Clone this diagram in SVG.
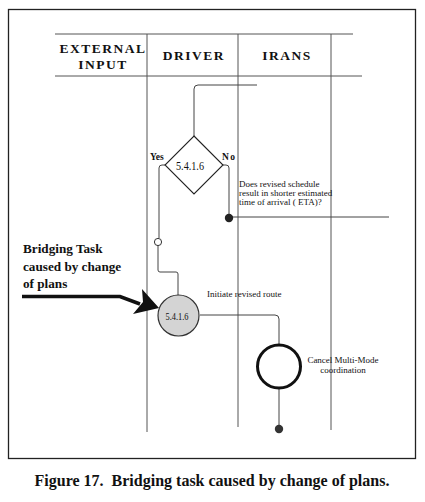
<svg xmlns="http://www.w3.org/2000/svg" width="425" height="502" viewBox="0 0 425 502">
<style>
text{font-family:"Liberation Serif","Times New Roman","DejaVu Serif",serif;fill:#111}
.hdr{font-weight:bold;font-size:13.5px;letter-spacing:1.5px;text-anchor:middle}
.lane{stroke:#555;stroke-width:1;fill:none}
.ln{stroke:#444;stroke-width:1;fill:none}
.sm{font-size:9px}
.id{text-anchor:middle}
.lbl{font-weight:bold;font-size:9.5px}
.big{font-weight:bold;font-size:13.2px}
</style>
<rect width="425" height="502" fill="#fff"/>
<rect x="8.5" y="9.5" width="407" height="449" fill="none" stroke="#222" stroke-width="1.3"/>
<g id="lanes">
<line class="lane" x1="55" y1="34" x2="353" y2="34"/>
<line class="lane" x1="55" y1="76" x2="362" y2="76"/>
<line class="lane" x1="147" y1="34" x2="147" y2="432"/>
<line class="lane" x1="238" y1="34" x2="238" y2="427"/>
<line class="lane" x1="331" y1="34" x2="331" y2="430"/>
<text class="hdr" x="103" y="53">EXTERNAL</text>
<text class="hdr" x="103" y="69">INPUT</text>
<text class="hdr" x="194" y="60">DRIVER</text>
<text class="hdr" x="287" y="60">IRANS</text>
</g>
<g id="connectors">
<path class="ln" d="M257 85 H198 Q194 85 194 89 V136"/>
<path class="ln" d="M165 165 H162 Q159 165 159 168 V238"/>
<path class="ln" d="M158 246 V270 Q158 272 160 272 H176 Q178 272 178 274 V295"/>
<path class="ln" d="M223 165 H226 Q229 165 229 168 V214"/>
<line class="ln" x1="229" y1="217" x2="389" y2="217"/>
<path class="ln" d="M200 315 H275 Q279 315 279 319 V344"/>
<line class="ln" x1="279" y1="389" x2="279" y2="426"/>
</g>
<g id="decision">
<polygon points="194,136 223,165 194,194 165,165" fill="#fff" stroke="#222" stroke-width="1.1"/>
<text class="id" x="190" y="170" font-size="13" textLength="28" lengthAdjust="spacingAndGlyphs">5.4.1.6</text>
<text class="lbl" x="150" y="160">Yes</text>
<text class="lbl" x="222" y="160" letter-spacing="1.5">No</text>
</g>
<g id="question">
<text class="sm" x="239" y="187">Does revised schedule</text>
<text class="sm" x="239" y="196">result in shorter estimated</text>
<text class="sm" x="239" y="205">time of arrival ( ETA)?</text>
</g>
<g id="no-end"><circle cx="229" cy="218" r="4.2" fill="#222"/></g>
<g id="yes-connector"><circle cx="158" cy="242" r="3.6" fill="#fff" stroke="#333" stroke-width="1"/></g>
<g id="bridging-task">
<circle cx="178.5" cy="315.5" r="20.5" fill="#d4d4d4" stroke="#333" stroke-width="1.2"/>
<text class="id" x="177" y="320" font-size="11" textLength="23" lengthAdjust="spacingAndGlyphs">5.4.1.6</text>
<text class="sm" x="207" y="297">Initiate revised route</text>
</g>
<g id="cancel">
<circle cx="279" cy="366.5" r="21.5" fill="#fff" stroke="#111" stroke-width="3"/>
<text class="sm" x="343" y="363" text-anchor="middle">Cancel Multi-Mode</text>
<text class="sm" x="343" y="373" text-anchor="middle">coordination</text>
</g>
<g id="end"><circle cx="279" cy="429" r="4.2" fill="#333"/></g>
<g id="callout">
<text class="big" x="23" y="253">Bridging Task</text>
<text class="big" x="23" y="271">caused by change</text>
<text class="big" x="23" y="288">of plans</text>
<path d="M22 296.5 H120 L140 304" fill="none" stroke="#111" stroke-width="3.5"/>
<polygon points="159,308 142,289 143,302 133,314" fill="#111"/>
</g>
<text x="212" y="486" text-anchor="middle" font-weight="bold" font-size="16" xml:space="preserve">Figure 17.  Bridging task caused by change of plans.</text>
</svg>
